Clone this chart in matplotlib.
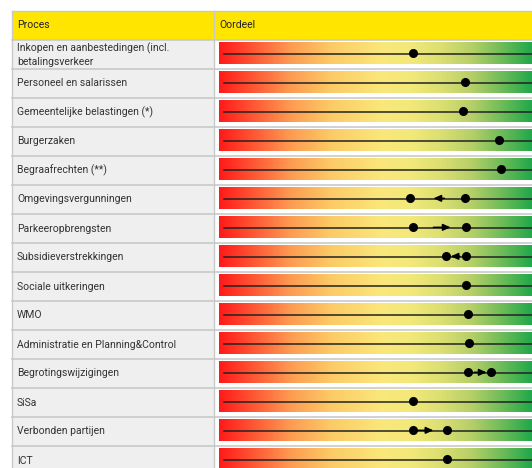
import numpy as np
import matplotlib.pyplot as plt
from matplotlib.colors import LinearSegmentedColormap
from matplotlib.patches import Rectangle

processen = ["Inkopen en aanbestedingen (incl.\nbetalingsverkeer",
             "Personeel en salarissen",
             "Gemeentelijke belastingen (*)",
             "Burgerzaken",
             "Begraafrechten (**)",
             "Omgevingsvergunningen",
             "Parkeeropbrengsten",
             "Subsidieverstrekkingen",
             "Sociale uitkeringen",
             "WMO",
             "Administratie en Planning&Control",
             "Begrotingswijzigingen",
             "SiSa",
             "Verbonden partijen",
             "ICT"]
# oordeel op schaal 0-10 (huidig en vorig jaar)
huidig = [6.2, 7.85, 7.8, 8.95, 9.0, 6.1, 7.9, 7.25, 7.9, 7.95, 8.0, 8.7, 6.2, 7.3, 7.3]
vorig = [None, None, None, None, None, 7.85, 6.2, 7.9, None, None, None, 7.95, None, 6.2, None]
pijl_van = [None, None, None, None, None, 7.2, 6.85, 7.7, None, None, None, 8.15, None, 6.3, None]
pijl_naar = [None, None, None, None, None, 6.85, 7.4, 7.4, None, None, None, 8.55, None, 6.85, None]
kop = ["Proces", "Oordeel"]

W, H = 532, 468
left, mid, top, head_h, row_h = 12, 214, 11, 29, 29
bar_x0 = 219
geel = "#FFE500"
rand = "#C9C9C9"
tekst = "#333333"
font = ["Roboto", "DejaVu Sans"]
fs = 7.5

fig = plt.figure(figsize=(W / 100, H / 100), dpi=100)
ax = fig.add_axes([0, 0, 1, 1])
ax.set_xlim(0, W)
ax.set_ylim(H, 0)
ax.axis("off")

n = len(processen)
body_top = top + head_h
# header
ax.add_patch(Rectangle((left, top), W - left, head_h, facecolor=geel, edgecolor="none"))
ax.text(left + 5, top + head_h / 2, kop[0], va="center", ha="left", fontsize=fs, color="#222222", family=font)
ax.text(mid + 5, top + head_h / 2, kop[1], va="center", ha="left", fontsize=fs, color="#222222", family=font)
# linker kolom
ax.add_patch(Rectangle((left, body_top), mid - left, n * row_h, facecolor="#EFEFEF", edgecolor="none"))
for i, p in enumerate(processen):
    yc = body_top + (i + 0.5) * row_h
    ax.text(left + 5, yc, p, va="center", ha="left", fontsize=fs, color=tekst, family=font,
            linespacing=1.35)
for i in range(n + 1):
    y = body_top + i * row_h
    ax.plot([left, W], [y, y], color=rand, lw=1.2)
ax.plot([left, W], [top, top], color=rand, lw=1)
ax.plot([left, left], [top, body_top + n * row_h], color=rand, lw=1)
ax.plot([mid, mid], [top, body_top + n * row_h], color=rand, lw=1)

# balken in eigen assen, schaal 0-10
bx = fig.add_axes([bar_x0 / W, 1 - (body_top + n * row_h) / H, (W - bar_x0) / W, n * row_h / H])
bx.set_xlim(0, 10)
bx.set_ylim(n, 0)
bx.axis("off")
cmap = LinearSegmentedColormap.from_list("oordeel", [
    (0.0, "#FF1A1A"), (0.1, "#FF5232"), (0.23, "#FD9C52"), (0.36, "#FCCB66"),
    (0.52, "#FAE77A"), (0.61, "#F3E97A"), (0.71, "#DCDF72"), (0.81, "#B5CF68"),
    (0.9, "#72BD5A"), (1.0, "#22A84A")])
grad = np.linspace(0, 1, 256).reshape(1, -1)
for i in range(n):
    bx.imshow(grad, cmap=cmap, aspect="auto", extent=(0, 10, i + 0.83, i + 0.1),
              interpolation="bilinear")
    bx.plot([0.15, 10], [i + 0.47, i + 0.47], color="#222222", lw=1.1)
    if vorig[i] is not None:
        bx.plot(vorig[i], i + 0.45, "o", color="black", ms=5.5)
    if pijl_van[i] is not None:
        bx.annotate("", xy=(pijl_naar[i], i + 0.46), xytext=(pijl_van[i], i + 0.46),
                    arrowprops=dict(arrowstyle="-|>,head_length=0.45,head_width=0.2",
                                    color="black", lw=1.1, shrinkA=0, shrinkB=0))
    bx.plot(huidig[i], i + 0.45, "o", color="black", ms=5.5)
bx.set_xlim(0, 10)
bx.set_ylim(n, 0)

fig.savefig("out.png", dpi=100)
